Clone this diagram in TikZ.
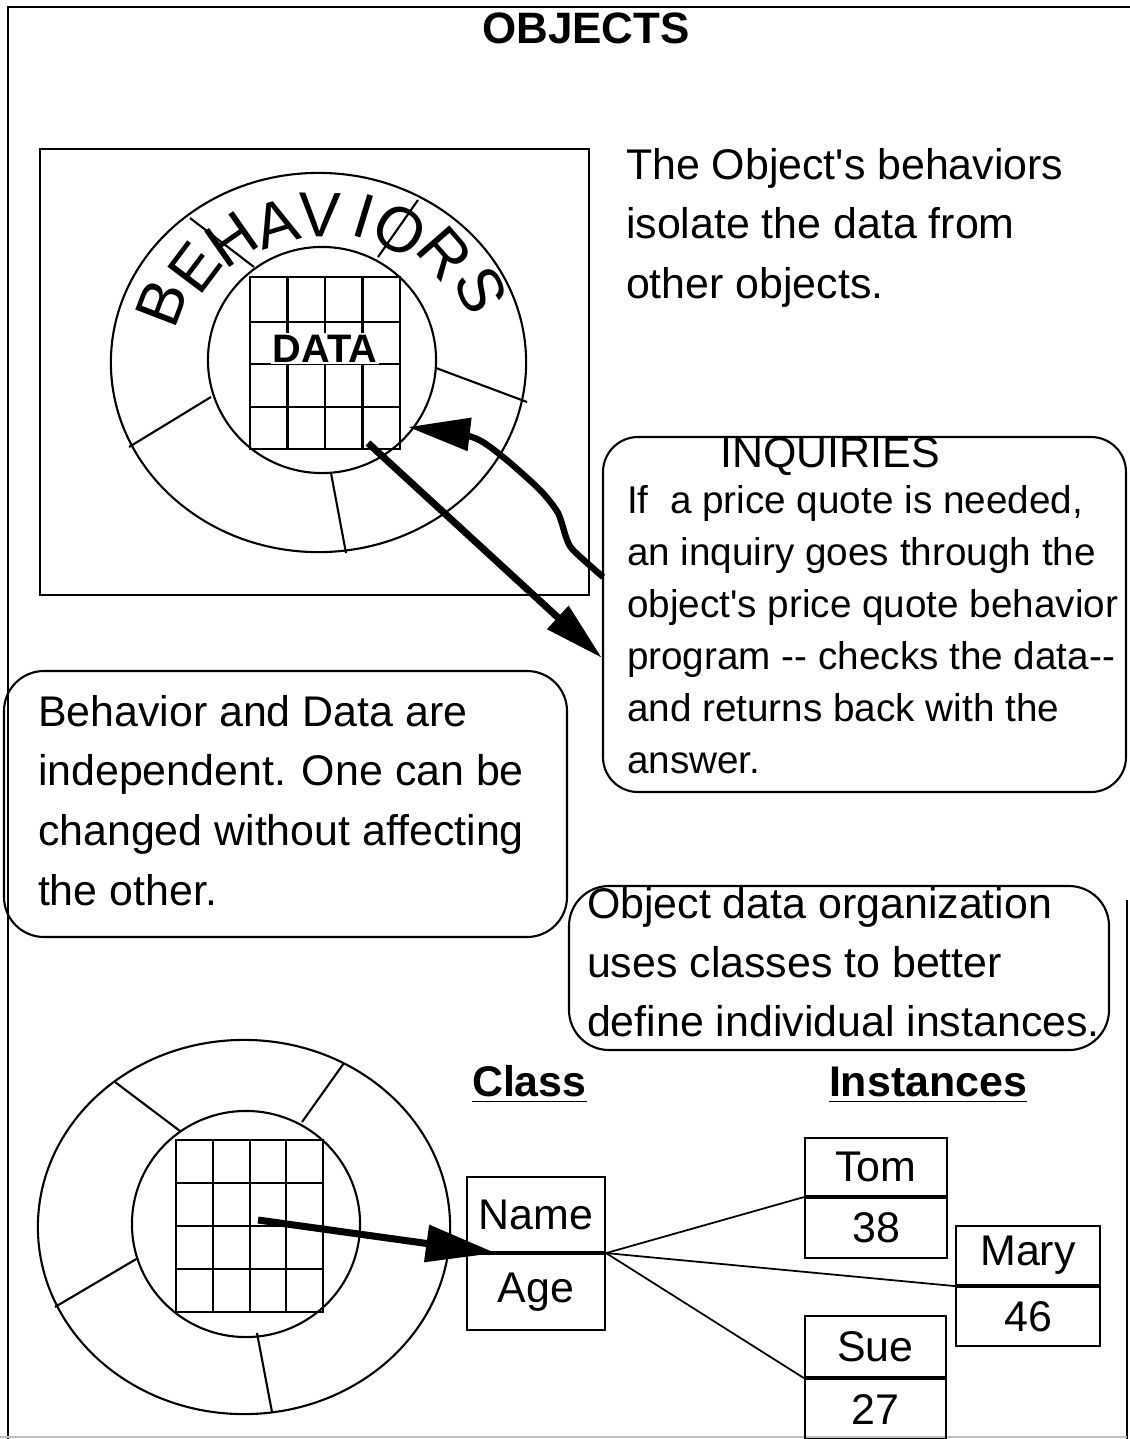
\documentclass[tikz,border=0pt]{standalone}
\usepackage{fontspec}
\setmainfont{Liberation Sans}
\usetikzlibrary{arrows.meta}

\begin{document}
\begin{tikzpicture}[x=0.01cm, y=-0.01cm, line width=0.6pt,
  body/.style={inner sep=0, align=left, anchor=north west, font=\fontsize{12.2}{17}\selectfont},
  cell/.style={draw, inner sep=0, font=\fontsize{12.2}{14}\selectfont},
  fat/.style={line width=1.8pt, -{Triangle[length=0.62cm, width=0.32cm]}},
  letter/.style={inner sep=0, font=\fontsize{18}{18}\selectfont},
  heading/.style={inner sep=0, anchor=base west, font=\bfseries\fontsize{12.2}{14}\selectfont}]

\useasboundingbox (0,0) rectangle (1130,1439);

% frame
\draw (8,1439) -- (8,7) -- (1130,7);
\draw (1127,900) -- (1127,1439);
\draw[gray!50] (0,1437) -- (1127,1437);

\node[inner sep=0, anchor=base, font=\bfseries\fontsize{12.5}{14}\selectfont] (title) at (586,43) {OBJECTS};

% upper object: behaviors round the data
\draw (40,149) rectangle (589,595);
\draw (318.5,362.5) ellipse (2.075cm and 1.895cm);
\draw (322,360) ellipse (1.14cm and 1.13cm);
\draw (190,218) -- (254,267);
\draw (418,200) -- (378,257);
\draw (436,368) -- (527,402);
\draw (129,447) -- (211,397);
\draw (331,473) -- (346,553);

\draw (250,277) rectangle (400,449);
\draw (287.5,277) -- (287.5,449);
\draw (325,277) -- (325,449);
\draw (362.5,277) -- (362.5,449);
\draw (250,322) -- (400,322);
\draw (250,364) -- (400,364);
\draw (250,407) -- (400,407);
\node[inner sep=0.5pt, fill=white, anchor=base, font=\bfseries\fontsize{11.3}{12}\selectfont] (data) at (325,362) {DATA};

\foreach \ch/\x/\y/\rot in {B/162/303/69, E/195/268/53, H/232/240/35,
    A/276/223/17, V/320/215/-1, I/364/216/-17, O/400/230/-32,
    R/445/253/-49, S/481/290/-66}
  \node[letter, rotate=\rot] at (\x,\y) {\ch};

\node[body] (isolate) at (625,147) {The Object\textquotesingle s behaviors\\isolate the data from\\other objects.};

% inquiries
\draw[rounded corners=0.35cm] (603,437) rectangle (1126,792);
\node[inner sep=0, anchor=base, font=\fontsize{12.2}{14}\selectfont] (inqtitle) at (830,467) {INQUIRIES};
\node[body, font=\fontsize{11}{14.8}\selectfont] (inqtext) at (626,484)
  {If~ a price quote is needed,\\an inquiry goes through the\\object\textquotesingle s price quote behavior\\program -{}- checks the data-{}-\\and returns back with the\\answer.};

\coordinate (inqout) at (603,577);
\coordinate (datain) at (408,427);
\coordinate (dataout) at (368,443);
\coordinate (inqin) at (602,658);
\draw[fat, line cap=butt] plot[smooth, tension=0.45] coordinates
  {(inqout) (573,550) (566,537) (558,513) (540,490) (503,457) (472,437) (datain)};
\draw[fat, line width=2pt, -{Triangle[length=0.6cm, width=0.3cm]}] (dataout) -- (inqin);

% independence
\draw[rounded corners=0.4cm] (4,671) rectangle (567,937);
\node[body] (indep) at (37,694) {Behavior and Data are\\independent. One can be\\changed without affecting\\the other.};

% classes
\draw[rounded corners=0.4cm] (569,886) rectangle (1109,1050);
\node[body, font=\fontsize{12.2}{16.8}\selectfont] (orgtext) at (586,886)
  {Object data organization\\uses classes to better\\define individual instances.};

% lower object
\draw (244,1227) ellipse (2.06cm and 1.87cm);
\draw (246,1224) ellipse (1.14cm and 1.13cm);
\draw (115,1082) -- (180,1131);
\draw (344,1063) -- (302,1122);
\draw (55,1307) -- (138,1258);
\draw (257,1333) -- (272,1412);

\draw (176,1140) rectangle (323,1312);
\draw (213,1140) -- (213,1312);
\draw (250,1140) -- (250,1312);
\draw (286,1140) -- (286,1312);
\draw (176,1183) -- (323,1183);
\draw (176,1226) -- (323,1226);
\draw (176,1269) -- (323,1269);

\node[heading] (classhead) at (471,1096) {\underline{Class}};
\node[heading] (insthead) at (828,1096) {\underline{Instances}};

\node[cell, minimum width=1.38cm, minimum height=0.75cm] (clname) at (536,1214.5) {Name};
\node[cell, minimum width=1.38cm, minimum height=0.76cm, anchor=north] (clage) at (clname.south) {Age};

\node[cell, minimum width=1.42cm, minimum height=0.58cm] (tom) at (876,1167) {Tom};
\node[cell, minimum width=1.42cm, minimum height=0.60cm, anchor=north] (tomage) at (tom.south) {38};
\node[cell, minimum width=1.44cm, minimum height=0.59cm] (mary) at (1028,1255.5) {Mary};
\node[cell, minimum width=1.44cm, minimum height=0.59cm, anchor=north] (maryage) at (mary.south) {46};
\node[cell, minimum width=1.41cm, minimum height=0.61cm] (sue) at (875.5,1346.5) {Sue};
\node[cell, minimum width=1.41cm, minimum height=0.60cm, anchor=north] (sueage) at (sue.south) {27};

\coordinate (cellsrc) at (258,1220);
\draw[fat, line width=2pt, -{Triangle[length=0.7cm, width=0.36cm]}] (cellsrc) -- ([xshift=0.3cm]clname.south west);

\draw[line width=0.5pt] (clname.south east) -- (tom.south west);
\draw[line width=0.5pt] (clname.south east) -- (mary.south west);
\draw[line width=0.5pt] (clname.south east) -- (sue.south west);
\end{tikzpicture}
\end{document}
